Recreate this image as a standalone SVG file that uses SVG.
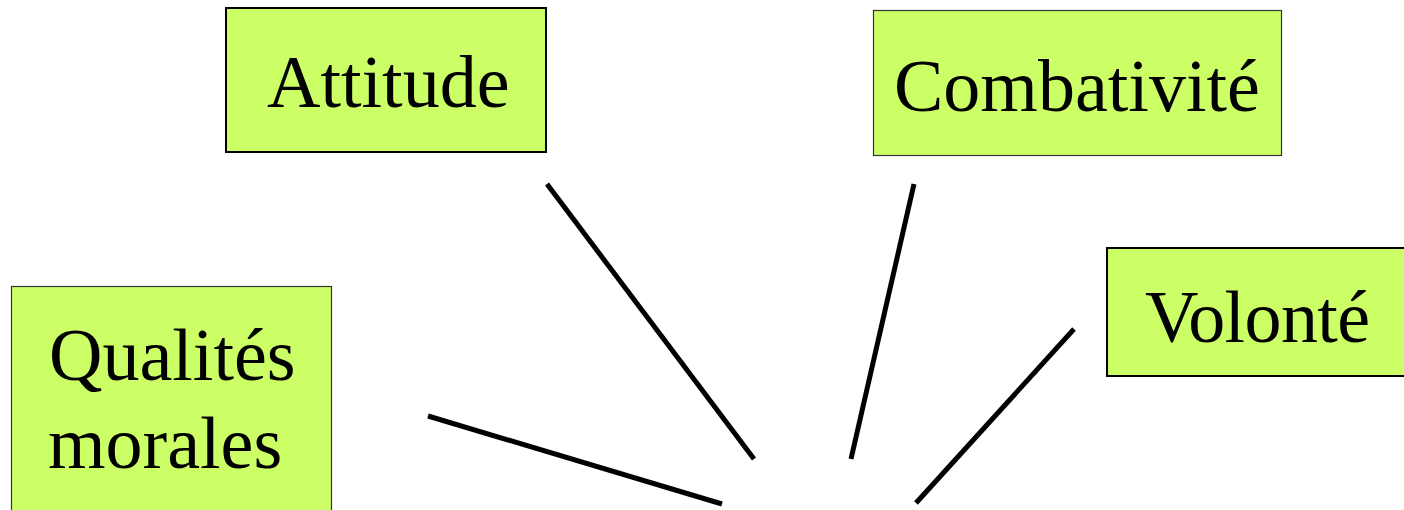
<svg xmlns="http://www.w3.org/2000/svg" width="1404" height="510" viewBox="0 0 1404 510">
<style>
.box{fill:#ccff66;stroke:#000;stroke-width:2}
.thin{stroke:#333;stroke-width:1.2}
.lbl{font-family:"Liberation Serif","Times New Roman",serif;font-size:74px;fill:#000}
.conn line{stroke:#000;stroke-width:5;stroke-linecap:butt}
</style>
<rect width="1404" height="510" fill="#fff"/>
<g id="node-attitude">
<rect class="box" x="226" y="8" width="320" height="144"/>
<text class="lbl" x="267" y="107">Attitude</text>
</g>
<g id="node-combativite">
<rect class="box thin" x="873.5" y="10.5" width="408" height="145"/>
<text class="lbl" x="894" y="111">Combativité</text>
</g>
<g id="node-volonte">
<rect class="box" x="1107" y="248" width="305" height="128"/>
<text class="lbl" x="1145" y="342" textLength="225">Volonté</text>
</g>
<g id="node-qualites">
<rect class="box thin" x="11.5" y="286.5" width="320" height="240"/>
<text class="lbl" x="49" y="380">Qualités</text>
<text class="lbl" x="48" y="468">morales</text>
</g>
<g id="connectors" class="conn">
<line x1="547" y1="184" x2="754" y2="459"/>
<line x1="914" y1="184" x2="851" y2="459"/>
<line x1="1074" y1="329" x2="916" y2="503"/>
<line x1="428" y1="416" x2="722" y2="504"/>
</g>
</svg>
